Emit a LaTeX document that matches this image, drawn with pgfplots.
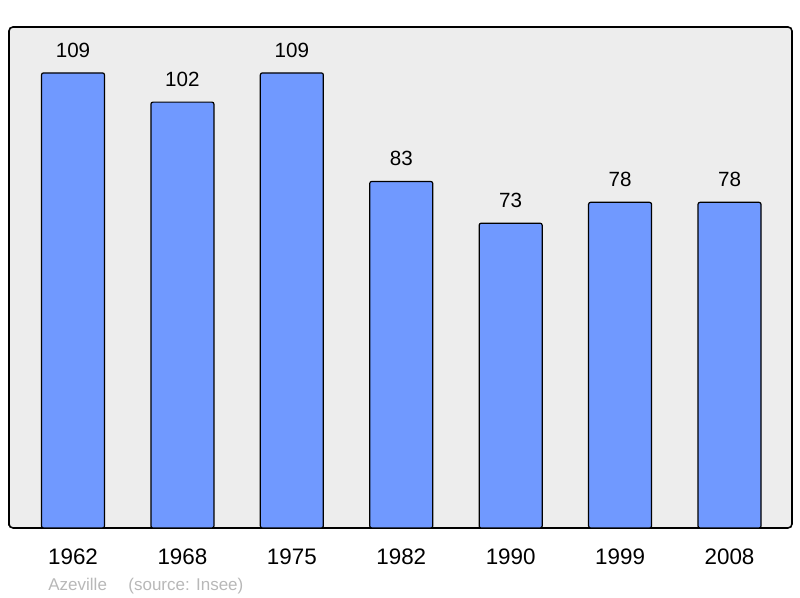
\documentclass[border=0pt]{standalone}
\usepackage{pgfplots}
\pgfplotsset{compat=1.18}
\usepackage{fontspec}
\setmainfont{Liberation Sans}
\definecolor{barblue}{HTML}{7099FF}
\definecolor{bggray}{HTML}{EDEDED}
\definecolor{srcgray}{HTML}{B8B8B8}
\begin{document}
\begin{tikzpicture}
\path[use as bounding box] (0,0) rectangle (400pt,299pt);
\begin{axis}[
  at={(4.5pt,35pt)}, anchor=south west,
  width=391.5pt, height=250.5pt, scale only axis,
  xmin=-0.585, xmax=6.571, ymin=0, ymax=120,
  axis background/.style={fill=bggray},
  axis line style={line width=0.8pt, rounded corners=2pt},
  ytick=\empty,
  xtick={0,...,6},
  xticklabels={1962,1968,1975,1982,1990,1999,2008},
  major tick length=0pt,
  xticklabel style={font=\fontsize{11.2}{13}\selectfont, inner sep=0pt, yshift=-10pt},
  /pgf/number format/assume math mode=true,
  ybar, bar width=31.5pt,
  nodes near coords,
  every node near coord/.append style={font=\fontsize{10.3}{12}\selectfont, anchor=south, inner sep=0pt, yshift=7.5pt},
  clip=false,
]
\addplot[fill=barblue, draw=black, line width=0.6pt, rounded corners=1pt] coordinates {
 (0,109) (1,102) (2,109) (3,83) (4,73) (5,78) (6,78)};
\end{axis}
\node[anchor=base west, inner sep=0pt, text=srcgray, font=\fontsize{8.5}{10}\selectfont] at (24pt,3.5pt) {Azeville};
\node[anchor=base west, inner sep=0pt, text=srcgray, font=\fontsize{8.5}{10}\selectfont] at (64pt,3.5pt) {(source: Insee)};
\end{tikzpicture}
\end{document}
